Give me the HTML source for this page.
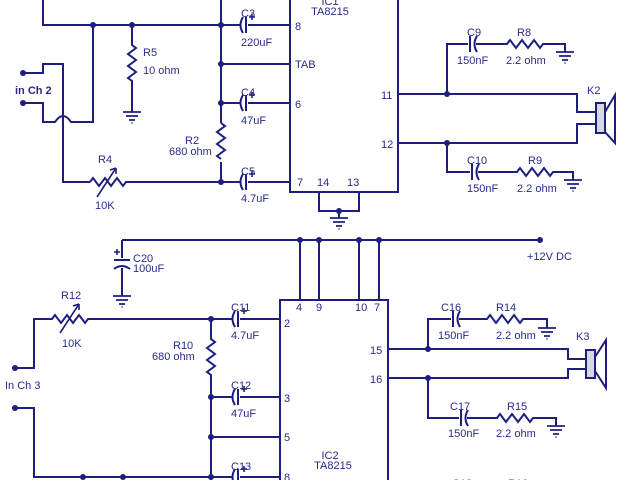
<!DOCTYPE html>
<html><head><meta charset="utf-8"><style>
html,body{margin:0;padding:0;background:#fff;}
svg{display:block;}
text{font-family:"Liberation Sans",sans-serif;font-size:11px;fill:#2a2a8a;}
</style></head><body>
<svg width="640" height="480" viewBox="0 0 640 480" xmlns="http://www.w3.org/2000/svg">
<defs>
<g id="pc"><!-- polar cap horizontal, centered 0,0: curved left, straight right -->
<rect x="-4" y="-2" width="8" height="4" fill="#fff"/>
<path d="M-1,-8 Q-6,0 -1,8" fill="none" stroke="#1e1e7e" stroke-width="2"/>
<path d="M2,-8 V8" stroke="#1e1e7e" stroke-width="2"/>
<path d="M5,-8 h6 M8,-11 v6" stroke="#1e1e7e" stroke-width="1.6"/>
</g>
<g id="nc"><!-- non-polar cap: straight left, curved right -->
<rect x="-4" y="-2" width="8" height="4" fill="#fff"/>
<path d="M-2,-8 V8" stroke="#1e1e7e" stroke-width="2"/>
<path d="M5,-8 Q0,0 5,8" fill="none" stroke="#1e1e7e" stroke-width="2"/>
</g>
<g id="gnd">
<path d="M-9,0 h18 M-6,4 h12 M-3,8 h6 M-0.5,11 h1" stroke="#1e1e7e" stroke-width="1.8"/>
</g>
<circle id="d" r="3" fill="#1e1e7e"/>
</defs>
<g fill="none" stroke="#1e1e7e" stroke-width="2">
<!-- ===== TOP SECTION ===== -->
<path d="M43,0 V25 H290"/>
<path d="M221,0 V123 M221,162 V182"/>
<path d="M221,64 H290 M221,103 H290"/>
<path d="M221,123 l4,3 l-8,6 l8,6 l-8,6 l8,6 l-8,6 l4,3"/>
<path d="M132,25 V45 l4,3 l-8,6 l8,6 l-8,6 l8,6 l-8,6 l4,3 V112"/>
<!-- input ch2 -->
<path d="M23,73 H43 V64 H63 V182 H90"/>
<path d="M23,103 H43 V122 H55 Q63,110 71,122 H93 V25"/>
<path d="M90,182 l3,-4 l6,8 l6,-8 l6,8 l6,-8 l6,8 l3,-4 H290"/>
<path d="M97,197 L116,168" stroke-width="1.6"/>
<path d="M116,168 l-6,2 M116,168 l0,6" stroke-width="1.6"/>
<!-- IC1 -->
<path d="M290,0 V192 H398 V0"/>
<path d="M319,192 V211 H359 V192"/>
<path d="M339,211 V218"/>
<!-- right top -->
<path d="M398,94 H577 V112 H596 M398,143 H577 V124 H596"/>
<path d="M447,94 V44 H507 l3,-4 l6,8 l6,-8 l6,8 l6,-8 l6,8 l3,-4 H565 V52"/>
<path d="M447,143 V172 H517 l3,-4 l6,8 l6,-8 l6,8 l6,-8 l6,8 l3,-4 H573 V180"/>
<rect x="596" y="103" width="9" height="30" fill="#d8d8e0"/>
<path d="M605,112 L615,95 V143 L605,132"/>
<!-- ===== MIDDLE ===== -->
<path d="M122,240 H540"/>
<path d="M122,240 V258 M122,268 V296"/>
<path d="M300,240 V300 M319,240 V300 M359,240 V300 M379,240 V300"/>
<!-- ===== BOTTOM SECTION ===== -->
<path d="M15,368 H34 V319 H52 l3,-4 l6,8 l6,-8 l6,8 l6,-8 l6,8 l3,-4 H280"/>
<path d="M60,333 L79,304" stroke-width="1.6"/>
<path d="M79,304 l-6,2 M79,304 l0,6" stroke-width="1.6"/>
<path d="M211,319 V339 l4,3 l-8,6 l8,6 l-8,6 l8,6 l-8,6 l4,3 V480"/>
<path d="M211,397 H280 M211,437 H280"/>
<path d="M15,408 H34 V477 H280"/>
<path d="M280,480 V300 H388 V480"/>
<path d="M388,349 H568 V359 H586 M388,378 H568 V369 H586"/>
<path d="M428,349 V319 H487 l3,-4 l6,8 l6,-8 l6,8 l6,-8 l6,8 l3,-4 H547 V328"/>
<path d="M428,378 V418 H497 l3,-4 l6,8 l6,-8 l6,8 l6,-8 l6,8 l3,-4 H556 V426"/>
<rect x="586" y="350" width="9" height="28" fill="#d8d8e0"/>
<path d="M595,357 L606,340 V388 L595,371"/>
</g>
<!-- C20 vertical polar cap -->
<path d="M114,260 H130" stroke="#1e1e7e" stroke-width="2"/>
<path d="M114,269 Q122,263 130,269" fill="none" stroke="#1e1e7e" stroke-width="2"/>
<path d="M114,252 h6 M117,249 v6" stroke="#1e1e7e" stroke-width="1.6"/>
<!-- caps -->
<use href="#pc" x="244" y="25"/>
<use href="#pc" x="244" y="103"/>
<use href="#pc" x="244" y="182"/>
<use href="#pc" x="236" y="319"/>
<use href="#pc" x="236" y="397"/>
<use href="#pc" x="236" y="477"/>
<use href="#nc" x="472" y="44"/>
<use href="#nc" x="474" y="172"/>
<use href="#nc" x="455" y="319"/>
<use href="#nc" x="463" y="418"/>
<!-- grounds -->
<use href="#gnd" x="132" y="112"/>
<use href="#gnd" x="339" y="218"/>
<use href="#gnd" x="565" y="52"/>
<use href="#gnd" x="573" y="180"/>
<use href="#gnd" x="122" y="296"/>
<use href="#gnd" x="547" y="328"/>
<use href="#gnd" x="556" y="426"/>
<!-- dots -->
<use href="#d" x="23" y="73"/><use href="#d" x="23" y="103"/>
<use href="#d" x="93" y="25"/><use href="#d" x="132" y="25"/>
<use href="#d" x="221" y="25"/><use href="#d" x="221" y="64"/>
<use href="#d" x="221" y="103"/><use href="#d" x="221" y="182"/>
<use href="#d" x="339" y="211"/>
<use href="#d" x="447" y="94"/><use href="#d" x="447" y="143"/>
<use href="#d" x="300" y="240"/><use href="#d" x="319" y="240"/>
<use href="#d" x="359" y="240"/><use href="#d" x="379" y="240"/>
<use href="#d" x="540" y="240"/>
<use href="#d" x="15" y="368"/><use href="#d" x="15" y="408"/>
<use href="#d" x="211" y="319"/><use href="#d" x="211" y="397"/>
<use href="#d" x="211" y="437"/><use href="#d" x="211" y="477"/>
<use href="#d" x="83" y="477"/><use href="#d" x="123" y="477"/>
<use href="#d" x="428" y="349"/><use href="#d" x="428" y="378"/>
<!-- labels top -->
<text x="330" y="5" text-anchor="middle">IC1</text>
<text x="330" y="15" text-anchor="middle">TA8215</text>
<text x="241" y="17" font-size="13">C3</text>
<text x="241" y="46">220uF</text>
<text x="295" y="30">8</text>
<text x="295" y="68">TAB</text>
<text x="295" y="108">6</text>
<text x="241" y="96" font-size="13">C4</text>
<text x="241" y="124">47uF</text>
<text x="241" y="175" font-size="13">C5</text>
<text x="241" y="202">4.7uF</text>
<text x="297" y="186">7</text>
<text x="317" y="186">14</text>
<text x="347" y="186">13</text>
<text x="143" y="56" font-size="13">R5</text>
<text x="143" y="74">10 ohm</text>
<text x="185" y="144" font-size="13">R2</text>
<text x="169" y="155">680 ohm</text>
<text x="98" y="163" font-size="13">R4</text>
<text x="95" y="209">10K</text>
<text x="15" y="94" font-weight="bold">in Ch 2</text>
<text x="381" y="99">11</text>
<text x="381" y="148">12</text>
<text x="467" y="36" font-size="13">C9</text>
<text x="457" y="64">150nF</text>
<text x="517" y="36" font-size="13">R8</text>
<text x="506" y="64">2.2 ohm</text>
<text x="587" y="94" font-size="13">K2</text>
<text x="467" y="164" font-size="13">C10</text>
<text x="467" y="192">150nF</text>
<text x="528" y="164" font-size="13">R9</text>
<text x="517" y="192">2.2 ohm</text>
<!-- middle -->
<text x="133" y="262" font-size="13">C20</text>
<text x="133" y="272">100uF</text>
<text x="527" y="260">+12V DC</text>
<!-- bottom -->
<text x="296" y="311">4</text>
<text x="316" y="311">9</text>
<text x="355" y="311">10</text>
<text x="374" y="311">7</text>
<text x="61" y="299" font-size="13">R12</text>
<text x="62" y="347">10K</text>
<text x="231" y="311" font-size="13">C11</text>
<text x="231" y="339">4.7uF</text>
<text x="284" y="327">2</text>
<text x="173" y="349" font-size="13">R10</text>
<text x="152" y="360">680 ohm</text>
<text x="231" y="389" font-size="13">C12</text>
<text x="231" y="417">47uF</text>
<text x="284" y="402">3</text>
<text x="284" y="441">5</text>
<text x="231" y="470" font-size="13">C13</text>
<text x="284" y="481">8</text>
<text x="5" y="389">In Ch 3</text>
<text x="330" y="459" text-anchor="middle">IC2</text>
<text x="333" y="469" text-anchor="middle">TA8215</text>
<text x="370" y="354">15</text>
<text x="370" y="383">16</text>
<text x="441" y="311" font-size="13">C16</text>
<text x="438" y="339">150nF</text>
<text x="496" y="311" font-size="13">R14</text>
<text x="496" y="339">2.2 ohm</text>
<text x="576" y="340" font-size="13">K3</text>
<text x="450" y="410" font-size="13">C17</text>
<text x="448" y="437">150nF</text>
<text x="507" y="410" font-size="13">R15</text>
<text x="496" y="437">2.2 ohm</text>
<text x="452" y="487" font-size="13">C18</text>
<text x="508" y="487" font-size="13">R16</text>
</svg>
</body></html>
